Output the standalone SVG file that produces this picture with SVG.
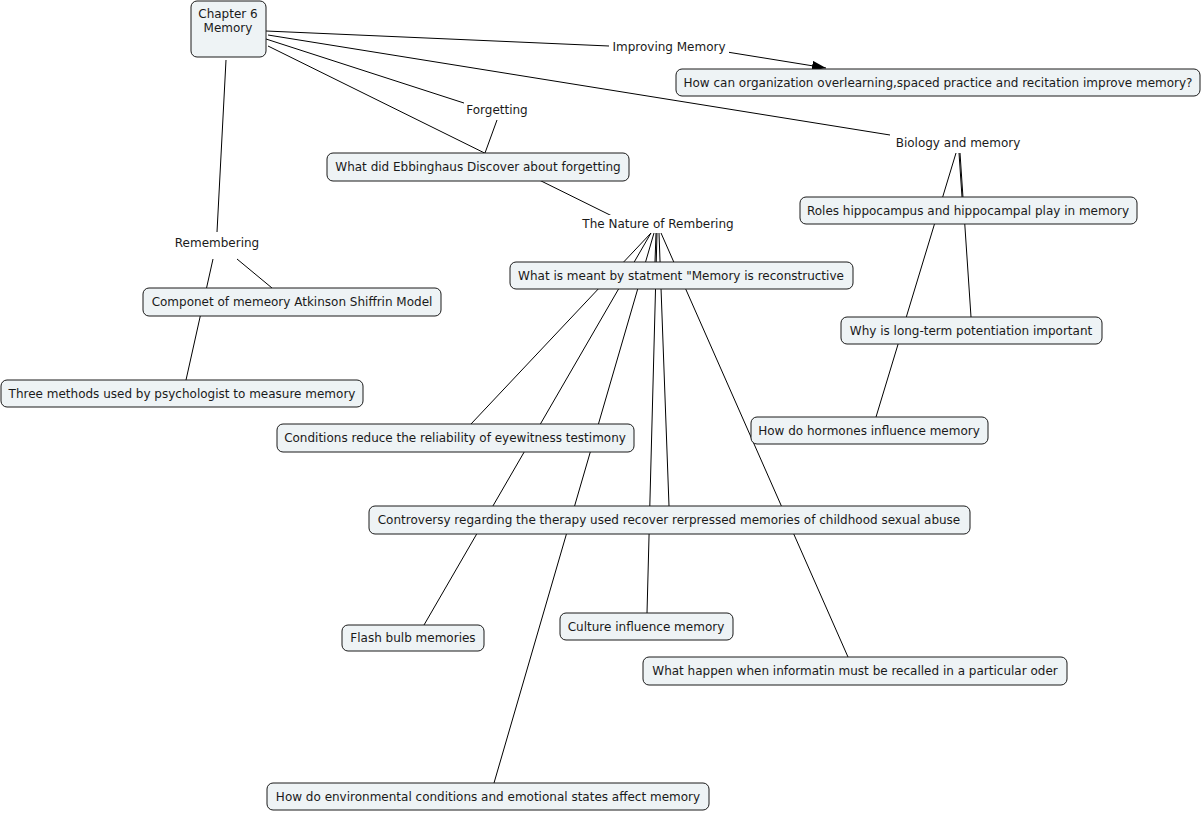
<svg xmlns="http://www.w3.org/2000/svg" width="1203" height="813" viewBox="0 0 1203 813">
<style>
.bg{fill:#ffffff}
.n{fill:#eef3f5;stroke:#1a1a1a;stroke-width:1}
.t{font-family:"DejaVu Sans",Verdana,sans-serif;font-size:12px;fill:#1a1a1a;text-anchor:middle;dominant-baseline:central}
.c line{stroke:#000;stroke-width:1}
</style>
<defs>
<marker id="arrbig" markerWidth="14" markerHeight="10" refX="14" refY="5" orient="auto" markerUnits="userSpaceOnUse" viewBox="0 0 14 10">
<path d="M0,0 L14,5 L0,10 z" fill="#000"/>
</marker>
</defs>
<rect class="bg" x="0" y="0" width="1203" height="813"/>
<g class="c" id="connectors">
<line x1="266" y1="31" x2="609" y2="46"/>
<line x1="727" y1="52" x2="826" y2="68" marker-end="url(#arrbig)"/>
<line x1="266" y1="39" x2="467" y2="104"/>
<line x1="497" y1="120" x2="485" y2="153"/>
<line x1="268" y1="46" x2="612" y2="216"/>
<line x1="268" y1="35" x2="890" y2="135"/>
<line x1="226" y1="60" x2="217" y2="232"/>
<line x1="237" y1="259" x2="272" y2="288"/>
<line x1="213" y1="259" x2="186" y2="380"/>
<line x1="956" y1="153" x2="876" y2="417"/>
<line x1="959" y1="153" x2="962" y2="197"/>
<line x1="960" y1="153" x2="971" y2="317"/>
<line x1="651" y1="233" x2="471" y2="424"/>
<line x1="651" y1="233" x2="424" y2="625"/>
<line x1="654" y1="233" x2="494" y2="783"/>
<line x1="657" y1="233" x2="647" y2="613"/>
<line x1="659" y1="233" x2="669" y2="506"/>
<line x1="661" y1="233" x2="848" y2="657"/>
<line x1="656" y1="233" x2="655" y2="262"/>
</g>
<g id="n-chapter"><rect class="n" x="191" y="1" width="75" height="56" rx="6"/><text class="t" x="228" y="14">Chapter 6</text><text class="t" x="228" y="28">Memory</text></g>
<g id="n-improving"><rect x="609" y="38" width="120" height="18" fill="#fff"/><text class="t" x="669" y="47">Improving Memory</text></g>
<g id="n-how-can"><rect class="n" x="676" y="69" width="524" height="27" rx="6"/><text class="t" x="938" y="83">How can organization overlearning,spaced practice and recitation improve memory?</text></g>
<g id="n-forgetting"><rect x="464" y="101" width="67" height="18" fill="#fff"/><text class="t" x="497" y="110">Forgetting</text></g>
<g id="n-ebbinghaus"><rect class="n" x="327" y="153" width="302" height="28" rx="6"/><text class="t" x="478" y="167">What did Ebbinghaus Discover about forgetting</text></g>
<g id="n-biology"><rect x="891" y="134" width="134" height="18" fill="#fff"/><text class="t" x="958" y="143">Biology and memory</text></g>
<g id="n-roles"><rect class="n" x="800" y="197" width="337" height="27" rx="6"/><text class="t" x="968" y="211">Roles hippocampus and hippocampal play in memory</text></g>
<g id="n-nature"><rect x="579" y="215" width="158" height="18" fill="#fff"/><text class="t" x="658" y="224">The Nature of Rembering</text></g>
<g id="n-remembering"><rect x="172" y="234" width="90" height="18" fill="#fff"/><text class="t" x="217" y="243">Remembering</text></g>
<g id="n-reconstructive"><rect class="n" x="510" y="262" width="343" height="27" rx="6"/><text class="t" x="681" y="276">What is meant by statment "Memory is reconstructive</text></g>
<g id="n-componet"><rect class="n" x="143" y="288" width="298" height="28" rx="6"/><text class="t" x="292" y="302">Componet of memeory Atkinson Shiffrin Model</text></g>
<g id="n-ltp"><rect class="n" x="841" y="317" width="261" height="27" rx="6"/><text class="t" x="971" y="331">Why is long-term potentiation important</text></g>
<g id="n-three"><rect class="n" x="1" y="380" width="362" height="27" rx="6"/><text class="t" x="182" y="394">Three methods used by psychologist to measure memory</text></g>
<g id="n-hormones"><rect class="n" x="751" y="417" width="237" height="27" rx="6"/><text class="t" x="869" y="431">How do hormones influence memory</text></g>
<g id="n-conditions"><rect class="n" x="277" y="424" width="357" height="28" rx="6"/><text class="t" x="455" y="438">Conditions reduce the reliability of eyewitness testimony</text></g>
<g id="n-controversy"><rect class="n" x="369" y="506" width="601" height="28" rx="6"/><text class="t" x="669" y="520">Controversy regarding the therapy used recover rerpressed memories of childhood sexual abuse</text></g>
<g id="n-flash"><rect class="n" x="342" y="625" width="142" height="26" rx="6"/><text class="t" x="413" y="638">Flash bulb memories</text></g>
<g id="n-culture"><rect class="n" x="560" y="613" width="173" height="27" rx="6"/><text class="t" x="646" y="627">Culture influence memory</text></g>
<g id="n-order"><rect class="n" x="643" y="657" width="424" height="28" rx="6"/><text class="t" x="855" y="671">What happen when informatin must be recalled in a particular oder</text></g>
<g id="n-environment"><rect class="n" x="267" y="783" width="442" height="27" rx="6"/><text class="t" x="488" y="797">How do environmental conditions and emotional states affect memory</text></g>
</svg>
